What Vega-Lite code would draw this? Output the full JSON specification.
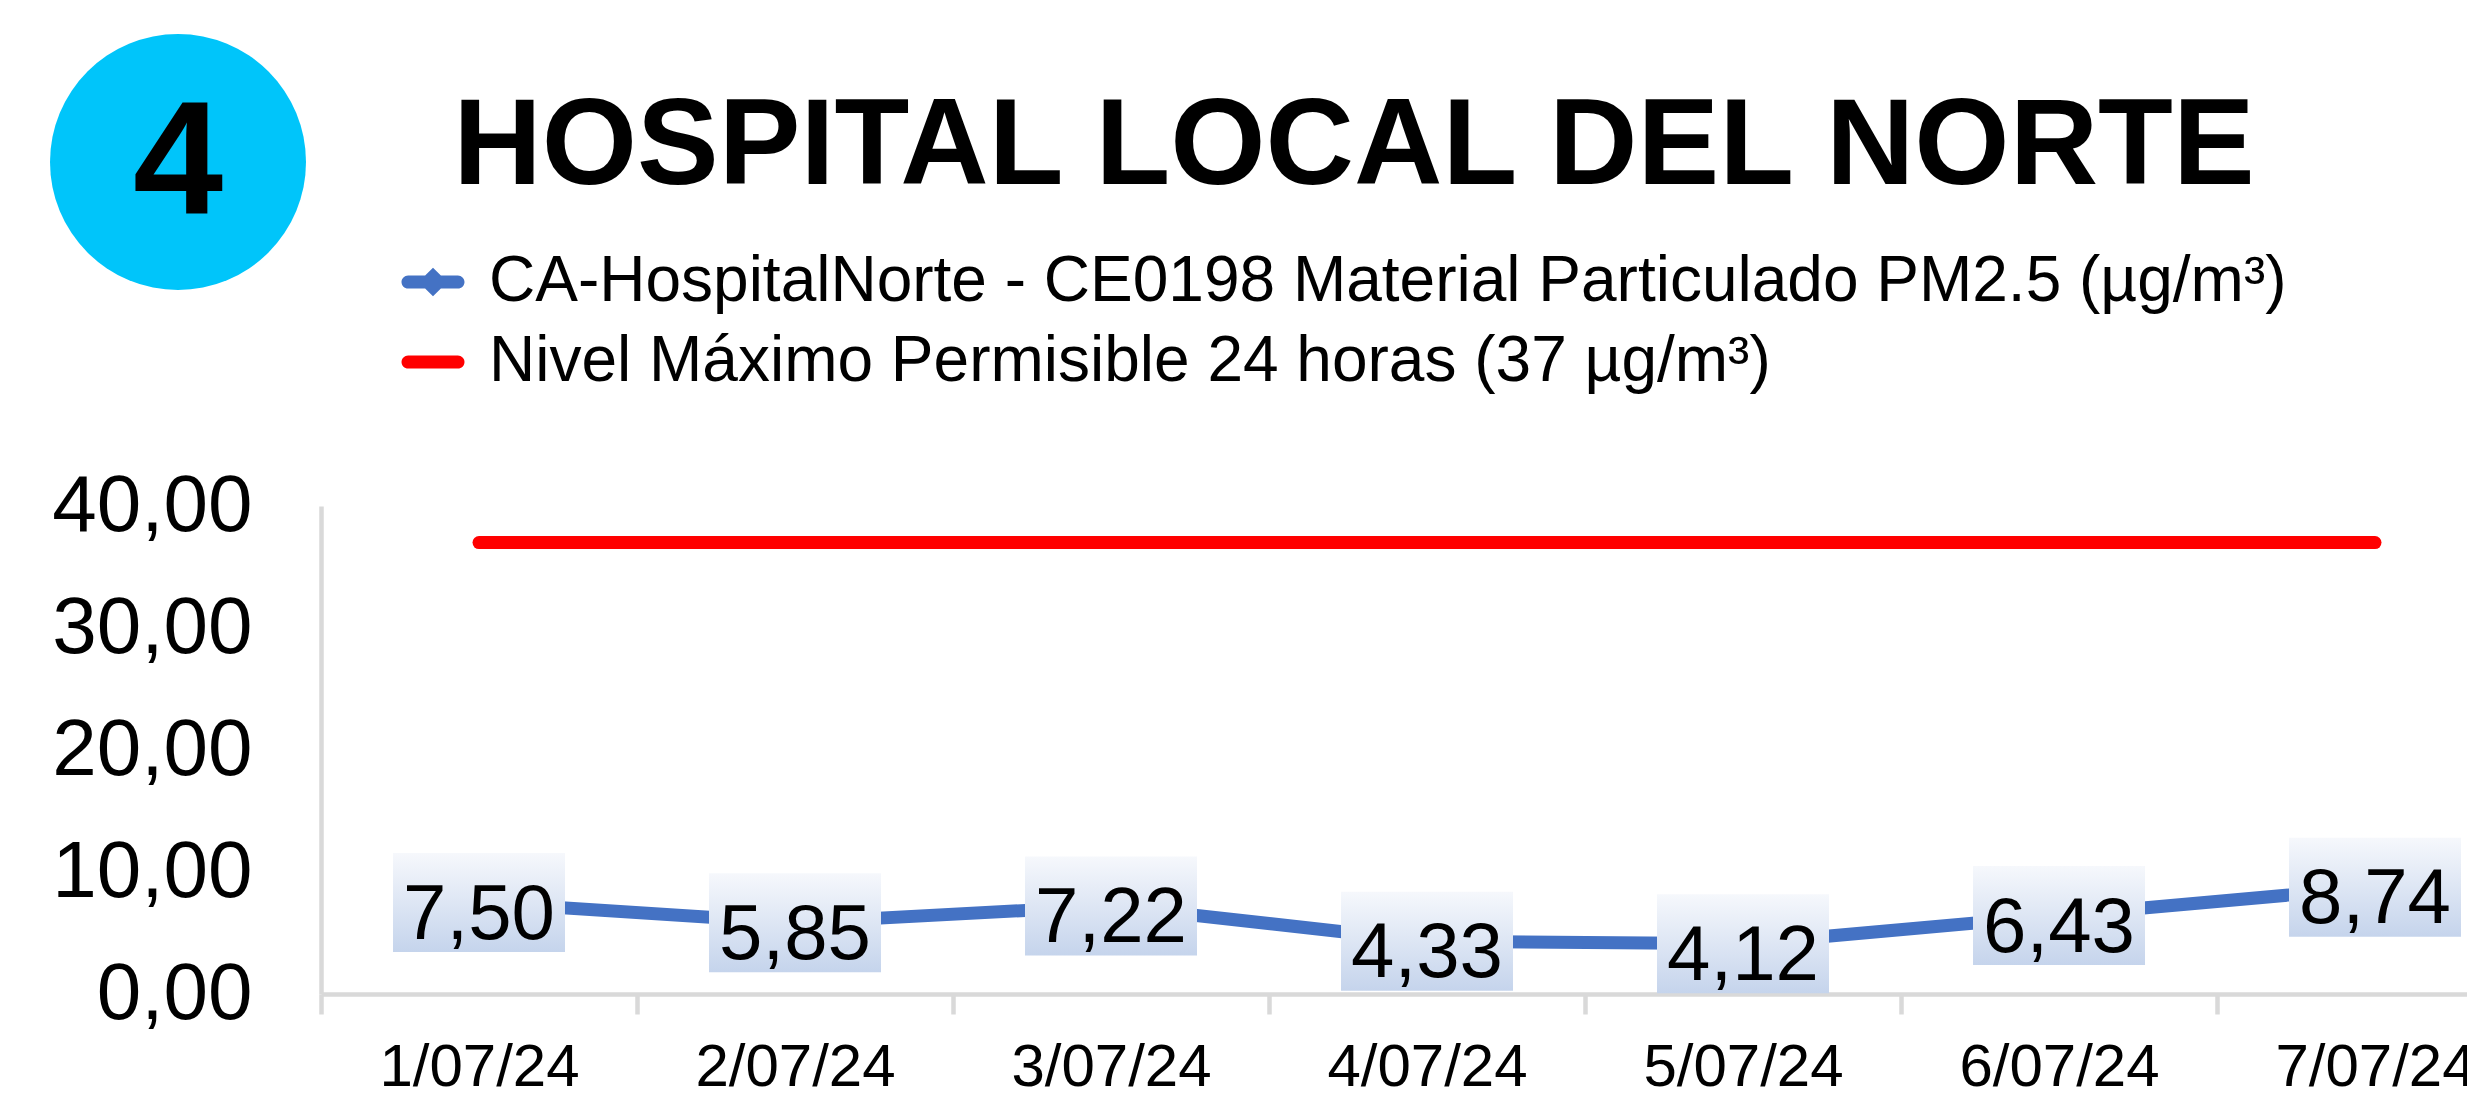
{
  "$schema": "https://vega.github.io/schema/vega-lite/v6.json",
  "background": "white",
  "padding": {"left": 50, "top": 34, "right": 0, "bottom": 0},
  "config": {
    "locale": {"number": {"decimal": ",", "thousands": ".", "grouping": [3], "currency": ["$", ""]}},
    "view": {"stroke": null},
    "font": "Liberation Sans"
  },
  "datasets": {
    "pm": [
      {"fecha": "1/07/24", "serie": "CA-HospitalNorte - CE0198 Material Particulado PM2.5 (µg/m³)", "valor": 7.50},
      {"fecha": "2/07/24", "serie": "CA-HospitalNorte - CE0198 Material Particulado PM2.5 (µg/m³)", "valor": 5.85},
      {"fecha": "3/07/24", "serie": "CA-HospitalNorte - CE0198 Material Particulado PM2.5 (µg/m³)", "valor": 7.22},
      {"fecha": "4/07/24", "serie": "CA-HospitalNorte - CE0198 Material Particulado PM2.5 (µg/m³)", "valor": 4.33},
      {"fecha": "5/07/24", "serie": "CA-HospitalNorte - CE0198 Material Particulado PM2.5 (µg/m³)", "valor": 4.12},
      {"fecha": "6/07/24", "serie": "CA-HospitalNorte - CE0198 Material Particulado PM2.5 (µg/m³)", "valor": 6.43},
      {"fecha": "7/07/24", "serie": "CA-HospitalNorte - CE0198 Material Particulado PM2.5 (µg/m³)", "valor": 8.74},
      {"fecha": "1/07/24", "serie": "Nivel Máximo Permisible 24 horas (37 µg/m³)", "valor": 37},
      {"fecha": "2/07/24", "serie": "Nivel Máximo Permisible 24 horas (37 µg/m³)", "valor": 37},
      {"fecha": "3/07/24", "serie": "Nivel Máximo Permisible 24 horas (37 µg/m³)", "valor": 37},
      {"fecha": "4/07/24", "serie": "Nivel Máximo Permisible 24 horas (37 µg/m³)", "valor": 37},
      {"fecha": "5/07/24", "serie": "Nivel Máximo Permisible 24 horas (37 µg/m³)", "valor": 37},
      {"fecha": "6/07/24", "serie": "Nivel Máximo Permisible 24 horas (37 µg/m³)", "valor": 37},
      {"fecha": "7/07/24", "serie": "Nivel Máximo Permisible 24 horas (37 µg/m³)", "valor": 37}
    ]
  },
  "bounds": "flush",
  "spacing": 15,
  "hconcat": [
    {
      "width": 256,
      "height": 256,
      "data": {"values": [{"n": "4"}]},
      "layer": [
        {"mark": {"type": "point", "shape": "circle", "filled": true, "size": 65536, "color": "#00C5FA", "opacity": 1, "strokeWidth": 0}, "encoding": {}},
        {"mark": {"type": "text", "fontSize": 162, "fontWeight": "bold", "font": "Liberation Sans", "align": "center", "baseline": "alphabetic", "dy": 52, "color": "black"}, "encoding": {"text": {"field": "n"}}}
      ]
    },
    {
      "bounds": "flush",
      "spacing": 216,
      "vconcat": [
        {
          "width": 2066,
          "height": 256,
          "data": {"values": [{"t": "HOSPITAL LOCAL DEL NORTE"}]},
          "mark": {"type": "text", "fontSize": 122.5, "fontWeight": "bold", "font": "Liberation Sans", "align": "center", "baseline": "alphabetic", "dy": 22, "color": "black"},
          "encoding": {"text": {"field": "t"}}
        },
        {
          "width": 2212,
          "height": 488,
          "data": {"name": "pm"},
          "encoding": {
            "x": {
              "field": "fecha", "type": "ordinal", "sort": null,
              "scale": {"paddingInner": 0, "paddingOuter": 0},
              "axis": {"title": null, "labelAngle": 0, "labelFontSize": 60, "labelLimit": 0, "labelColor": "black", "labelPadding": 24, "domainColor": "#D9D9D9", "domainWidth": 4.5, "tickColor": "#D9D9D9", "tickWidth": 4.5, "tickSize": 20, "tickBand": "extent", "grid": false}
            },
            "y": {
              "field": "valor", "type": "quantitative",
              "scale": {"domain": [0, 40]},
              "axis": {"title": null, "values": [0, 10, 20, 30, 40], "format": ".2f", "labelFontSize": 80, "labelLimit": 0, "labelColor": "black", "labelPadding": 69, "ticks": false, "tickSize": 0, "grid": false, "domainColor": "#D9D9D9", "domainWidth": 4.5}
            }
          },
          "layer": [
            {
              "mark": {"type": "line", "strokeWidth": 13, "strokeCap": "round", "strokeJoin": "round"},
              "encoding": {
                "color": {
                  "field": "serie", "type": "nominal",
                  "scale": {"domain": ["CA-HospitalNorte - CE0198 Material Particulado PM2.5 (µg/m³)", "Nivel Máximo Permisible 24 horas (37 µg/m³)"], "range": ["#4472C4", "#FF0000"]},
                  "legend": {
                    "orient": "none", "legendX": 351, "legendY": 216, "direction": "vertical", "title": null,
                    "labelFontSize": 64, "labelFont": "Liberation Sans", "labelColor": "black", "labelLimit": 0, "labelOffset": 24,
                    "rowPadding": 16, "symbolSize": 3969, "symbolStrokeWidth": 0,
                    "encode": {
                      "symbols": {
                        "update": {
                          "shape": {"signal": "datum.index == 0 ? 'M-0.79,-0.21L-0.25,-0.21L0,-0.45L0.25,-0.21L0.79,-0.21A0.21,0.21,0,0,1,0.79,0.21L0.25,0.21L0,0.45L-0.25,0.21L-0.79,0.21A0.21,0.21,0,0,1,-0.79,-0.21Z' : 'M-0.79,-0.21L0.79,-0.21A0.21,0.21,0,0,1,0.79,0.21L-0.79,0.21A0.21,0.21,0,0,1,-0.79,-0.21Z'"},
                          "fill": {"signal": "datum.index == 0 ? '#4472C4' : '#FF0000'"},
                          "strokeWidth": {"value": 0},
                          "opacity": {"value": 1}
                        }
                      }
                    }
                  }
                }
              }
            },
            {
              "transform": [{"filter": {"field": "serie", "equal": "CA-HospitalNorte - CE0198 Material Particulado PM2.5 (µg/m³)"}}],
              "mark": {
                "type": "point",
                "shape": "M-1,-0.5756L1,-0.5756L1,0.5756L-1,0.5756Z",
                "size": 29584, "filled": true, "opacity": 1, "strokeWidth": 0,
                "fill": {"gradient": "linear", "x1": 0, "y1": 0, "x2": 0, "y2": 1, "stops": [{"offset": 0, "color": "#F6F8FC"}, {"offset": 1, "color": "#C5D4EC"}]}
              }
            },
            {
              "transform": [{"filter": {"field": "serie", "equal": "CA-HospitalNorte - CE0198 Material Particulado PM2.5 (µg/m³)"}}],
              "mark": {"type": "text", "fontSize": 78, "font": "Liberation Sans", "align": "center", "baseline": "alphabetic", "dy": 36, "color": "black"},
              "encoding": {"text": {"field": "valor", "type": "quantitative", "format": ".2f"}}
            }
          ]
        }
      ]
    }
  ]
}
